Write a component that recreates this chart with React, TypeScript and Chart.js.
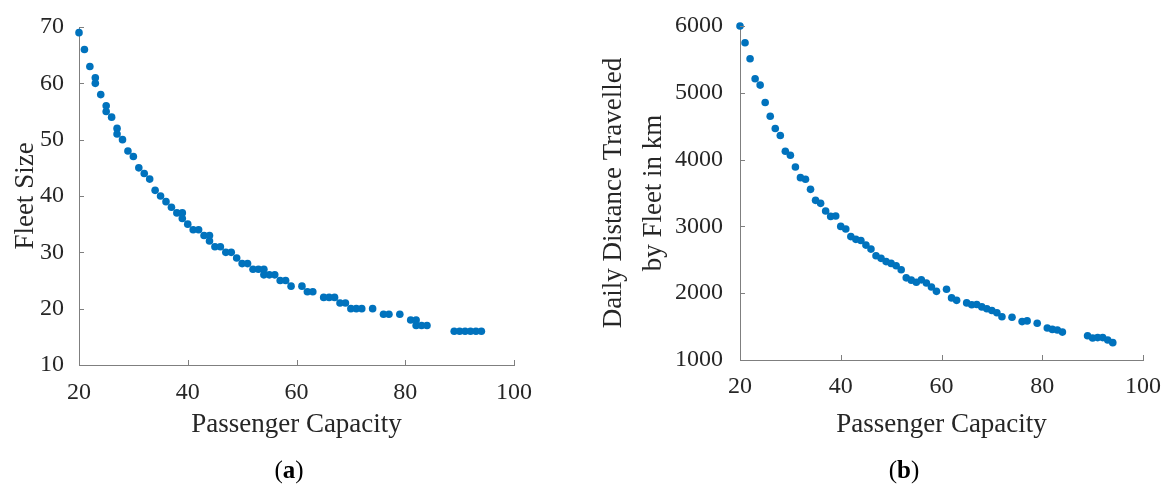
import React, { useEffect, useRef } from "react";
import { Chart, registerables } from "chart.js";

Chart.register(...registerables);

// ---------- data ----------
const capacityA = [
  20, 21, 22, 23, 23, 24, 25, 25, 26, 27, 27, 28, 29, 30, 31, 32, 33, 34, 35, 36,
  37, 38, 39, 39, 40, 41, 42, 43, 44, 44, 45, 46, 47, 48, 49, 50, 51, 52, 53, 54,
  54, 55, 56, 57, 58, 59, 61, 62, 63, 65, 66, 67, 68, 69, 70, 71, 72, 74, 76, 77,
  79, 81, 82, 82, 83, 84, 89, 90, 91, 92, 93, 94,
];
const fleetSize = [
  69, 66, 63, 61, 60, 58, 56, 55, 54, 52, 51, 50, 48, 47, 45, 44, 43, 41, 40, 39,
  38, 37, 37, 36, 35, 34, 34, 33, 33, 32, 31, 31, 30, 30, 29, 28, 28, 27, 27, 27,
  26, 26, 26, 25, 25, 24, 24, 23, 23, 22, 22, 22, 21, 21, 20, 20, 20, 20, 19, 19,
  19, 18, 18, 17, 17, 17, 16, 16, 16, 16, 16, 16,
];

const capacityB = [
  20, 21, 22, 23, 24, 25, 26, 27, 28, 29, 30, 31, 32, 33, 34, 35, 36, 37, 38, 39,
  40, 41, 42, 43, 44, 45, 46, 47, 48, 49, 50, 51, 52, 53, 54, 55, 56, 57, 58, 59,
  61, 62, 63, 65, 66, 67, 68, 69, 70, 71, 72, 74, 76, 77, 79, 81, 82, 83, 84,
  89, 90, 91, 92, 93, 94,
];
const dailyDistance = [
  6000, 5750, 5510, 5210, 5115, 4855, 4650, 4465, 4360, 4125, 4065, 3890, 3730, 3705,
  3555, 3390, 3345, 3230, 3150, 3155, 3000, 2962, 2847, 2806, 2790, 2720, 2660, 2560,
  2522, 2473, 2446, 2411, 2350, 2230, 2195, 2163, 2200, 2153, 2093, 2028,
  2060, 1930, 1893, 1855, 1826, 1830, 1795, 1768, 1740, 1708, 1648, 1640, 1575, 1585,
  1550, 1480, 1458, 1450, 1418, 1362, 1330, 1335, 1335, 1300, 1260,
];

const capacityTicks = [20, 40, 60, 80, 100];
const fleetTicks = [10, 20, 30, 40, 50, 60, 70];
const distanceTicks = [1000, 2000, 3000, 4000, 5000, 6000];

const xTitle = "Passenger Capacity";
const yTitleA = "Fleet Size";
const yTitleB = ["Daily Distance Travelled", "by Fleet in km"];

// ---------- style ----------
const FONT = "'Liberation Serif', 'Times New Roman', serif";
const DOT = "#0072BD";
const AXIS = "#7f7f7f";
const TEXT = "#262626";

const inwardTicks = {
  id: "inwardTicks",
  afterDraw(chart: any) {
    const ctx = chart.ctx;
    const xs = chart.scales.x;
    const ys = chart.scales.y;
    ctx.save();
    ctx.strokeStyle = AXIS;
    ctx.lineWidth = 1;
    xs.ticks.forEach((t: any) => {
      const px = Math.round(xs.getPixelForValue(t.value)) + 0.5;
      ctx.beginPath();
      ctx.moveTo(px, xs.top);
      ctx.lineTo(px, xs.top - 5);
      ctx.stroke();
    });
    ys.ticks.forEach((t: any) => {
      const py = Math.round(ys.getPixelForValue(t.value)) + 0.5;
      ctx.beginPath();
      ctx.moveTo(ys.right, py);
      ctx.lineTo(ys.right + 5, py);
      ctx.stroke();
    });
    ctx.restore();
  },
};

type PanelProps = {
  left: number;
  width: number;
  height: number;
  xs: number[];
  ys: number[];
  yMin: number;
  yMax: number;
  yTicks: number[];
  yTitle: string | string[];
  yAxisWidth: number;
  xAxisHeight: number;
  padTop: number;
  padRight: number;
  yTitlePad: number;
  yTitleLineHeight: number;
  yTickPad: number;
  xTickPad: number;
};

function ScatterPanel(p: PanelProps) {
  const ref = useRef<HTMLCanvasElement | null>(null);
  useEffect(() => {
    if (!ref.current) return;
    const points = p.xs.map((x, i) => ({ x, y: p.ys[i] }));
    const chart = new Chart(ref.current, {
      type: "scatter",
      data: {
        datasets: [
          {
            data: points,
            backgroundColor: DOT,
            borderWidth: 0,
            pointRadius: 3.8,
            clip: false as any,
          },
        ],
      },
      options: {
        animation: false,
        responsive: false,
        events: [],
        layout: { padding: { top: p.padTop, right: p.padRight, left: 0, bottom: 0 } },
        plugins: { legend: { display: false }, tooltip: { enabled: false } },
        scales: {
          x: {
            type: "linear",
            min: 20,
            max: 100,
            grid: { display: false },
            border: { display: true, color: AXIS, width: 1 },
            afterBuildTicks: (s: any) => {
              s.ticks = capacityTicks.map((v) => ({ value: v }));
            },
            afterFit: (s: any) => {
              s.height = p.xAxisHeight;
            },
            ticks: {
              color: TEXT,
              padding: p.xTickPad,
              maxRotation: 0,
              font: { family: FONT, size: 24 },
              callback: (v: any) => String(v),
            },
            title: {
              display: true,
              text: xTitle,
              color: TEXT,
              font: { family: FONT, size: 27, lineHeight: 1.2 },
              padding: { top: 0, bottom: 50 },
            },
          },
          y: {
            type: "linear",
            min: p.yMin,
            max: p.yMax,
            grid: { display: false },
            border: { display: true, color: AXIS, width: 1 },
            afterBuildTicks: (s: any) => {
              s.ticks = p.yTicks.map((v) => ({ value: v }));
            },
            afterFit: (s: any) => {
              s.width = p.yAxisWidth;
            },
            ticks: {
              color: TEXT,
              padding: p.yTickPad,
              font: { family: FONT, size: 24 },
              callback: (v: any) => String(v),
            },
            title: {
              display: true,
              text: p.yTitle as any,
              color: TEXT,
              font: { family: FONT, size: 27, lineHeight: p.yTitleLineHeight },
              padding: { top: p.yTitlePad, bottom: 0 },
            },
          },
        },
      },
      plugins: [inwardTicks],
    });
    return () => chart.destroy();
  }, []);
  return (
    <canvas
      ref={ref}
      width={p.width}
      height={p.height}
      style={{ position: "absolute", left: p.left, top: 0, width: p.width, height: p.height }}
    />
  );
}

const captionStyle: React.CSSProperties = {
  position: "absolute",
  top: 455,
  width: 60,
  textAlign: "center",
  fontFamily: FONT,
  fontSize: 25,
  color: "#000",
  lineHeight: "30px",
};

export default function App() {
  return (
    <div
      style={{
        position: "absolute",
        left: 0,
        top: 0,
        width: 1170,
        height: 491,
        background: "#fff",
        overflow: "hidden",
      }}
    >
      <ScatterPanel
        left={0}
        width={560}
        height={491}
        xs={capacityA}
        ys={fleetSize}
        yMin={10}
        yMax={70}
        yTicks={fleetTicks}
        yTitle={yTitleA}
        yAxisWidth={79}
        xAxisHeight={126}
        padTop={27}
        padRight={46}
        yTitlePad={10}
        yTitleLineHeight={1.2}
        yTickPad={7}
        xTickPad={5}
      />
      <ScatterPanel
        left={580}
        width={590}
        height={491}
        xs={capacityB}
        ys={dailyDistance}
        yMin={1000}
        yMax={6000}
        yTicks={distanceTicks}
        yTitle={yTitleB}
        yAxisWidth={160}
        xAxisHeight={131}
        padTop={26}
        padRight={27}
        yTitlePad={14}
        yTitleLineHeight={1.48}
        yTickPad={9}
        xTickPad={4}
      />
      <div style={{ ...captionStyle, left: 289 - 30 }}>
        (<b>a</b>)
      </div>
      <div style={{ ...captionStyle, left: 904 - 30 }}>
        (<b>b</b>)
      </div>
    </div>
  );
}
